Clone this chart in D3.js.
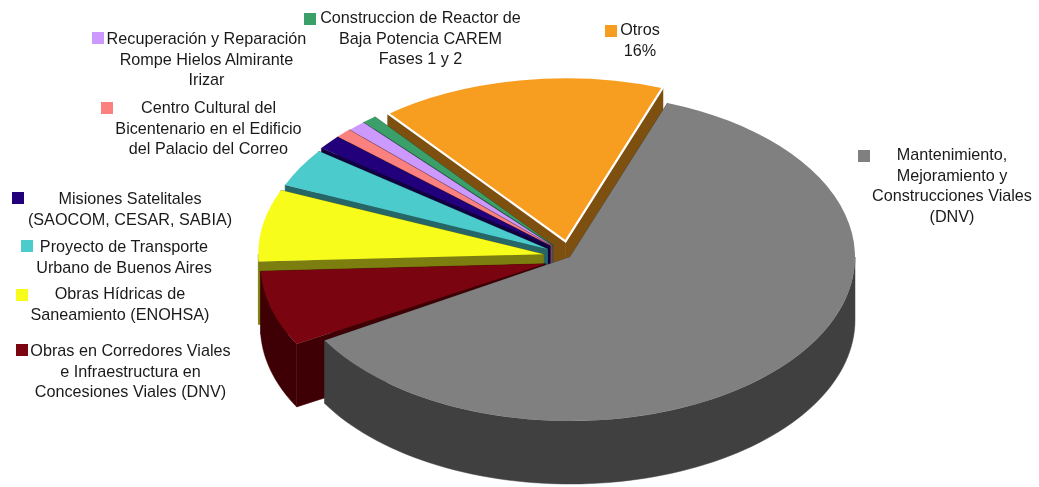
<!DOCTYPE html>
<html>
<head>
<meta charset="utf-8">
<script src="https://cdnjs.cloudflare.com/ajax/libs/d3/7.8.5/d3.min.js"></script>
<style>
html,body{margin:0;padding:0;background:#fff;overflow:hidden}
svg{display:block;filter:blur(0.45px)}
text{font-family:"Liberation Sans",Arial,sans-serif;font-size:16.2px;fill:#1a1a1a;text-anchor:middle;dominant-baseline:middle}
</style>
</head>
<body>
<svg id="c" width="1039" height="487"></svg>
<script>
// Data
const categories = [
  "Mantenimiento, Mejoramiento y Construcciones Viales (DNV)",
  "Obras en Corredores Viales e Infraestructura en Concesiones Viales (DNV)",
  "Obras Hídricas de Saneamiento (ENOHSA)",
  "Proyecto de Transporte Urbano de Buenos Aires",
  "Misiones Satelitales (SAOCOM, CESAR, SABIA)",
  "Centro Cultural del Bicentenario en el Edificio del Palacio del Correo",
  "Recuperación y Reparación Rompe Hielos Almirante Irizar",
  "Construccion de Reactor de Baja Potencia CAREM Fases 1 y 2",
  "Otros"
];
const values = [61, 7.8, 7.1, 3.8, 1.4, 0.9, 1, 0.8, 16.3];
const labelLines = [
  ["Mantenimiento,", "Mejoramiento y", "Construcciones Viales", "(DNV)"],
  ["Obras en Corredores Viales", "e Infraestructura en", "Concesiones Viales (DNV)"],
  ["Obras Hídricas de", "Saneamiento (ENOHSA)"],
  ["Proyecto de Transporte", "Urbano de Buenos Aires"],
  ["Misiones Satelitales", "(SAOCOM, CESAR, SABIA)"],
  ["Centro Cultural del", "Bicentenario en el Edificio", "del Palacio del Correo"],
  ["Recuperación y Reparación", "Rompe Hielos Almirante", "Irizar"],
  ["Construccion de Reactor de", "Baja Potencia CAREM", "Fases 1 y 2"],
  ["Otros", "16%"]
];
// Styles and layout
const topColors = ["#808080","#7a0510","#f8fc1a","#4bcbcb","#22007b","#fb8080","#cc99ff","#3a9f68","#f79d1f"];
const sideColors = ["#404040","#3f0005","#7d7e10","#266666","#110040","#804040","#664d80","#1d5034","#7d5010"];
const legendLayout = [
  {sx:858,sy:150,tx:952,ty:155.5},
  {sx:16,sy:344,tx:130.5,ty:351.5},
  {sx:16,sy:289,tx:120,ty:294.5},
  {sx:21,sy:240,tx:124,ty:247.5},
  {sx:12,sy:192,tx:130,ty:199.5},
  {sx:101,sy:102,tx:208.5,ty:108.5},
  {sx:92,sy:32,tx:206.5,ty:39.5},
  {sx:304,sy:13,tx:420.5,ty:18.5},
  {sx:605,sy:25,tx:640,ty:30.5}
];
const lineGap = 20.8;
const cx = 570, cy = 257, rx = 285, ry = 164, depth = 63, explode = 0.097;
// small per-slice corrections to the exploded position (px) and the leading edge (degrees)
const nudgeX = [0, 2, 0.5, 1.5, 1.5, 1, 1, 0.5, 0];
const nudgeY = [0, 2.5, 0, 0, -1, -0.5, 0, 0, 0];
const startTrim = [0, 1.4, 0, 0, 0, 0, 0, 0, 0];

const svg = d3.select("#c");
const x = d3.scaleLinear().domain([-1,1]).range([cx-rx,cx+rx]);
const y = d3.scaleLinear().domain([-1,1]).range([cy-ry,cy+ry]);
const deg = Math.PI/180;
const arcs = d3.pie().sort(null).startAngle(20*deg).endAngle(380*deg)(values)
  .map((a,i) => ({...a, startAngle: a.startAngle + startTrim[i]*deg}));
const topArc = d3.arc().innerRadius(0).outerRadius(rx);
const line = d3.line();

// Painter's order: from the back slice to the front one, big grey slice last
const order = d3.range(values.length).reverse();
order.forEach(i => {
  const a = arcs[i];
  const mid = (a.startAngle + a.endAngle)/2;
  const e = i === 0 ? 0 : explode;
  const ox = e*Math.sin(mid), oy = -e*Math.cos(mid);
  const px = (t,r=1) => x(ox + r*Math.sin(t)) + nudgeX[i];
  const py = (t,r=1) => y(oy - r*Math.cos(t)) + nudgeY[i];
  const g = svg.append("g");

  // radial walls
  [a.startAngle, a.endAngle].forEach(t => {
    const pts = [[px(0,0),py(0,0)],[px(t),py(t)],[px(t),py(t)+depth],[px(0,0),py(0,0)+depth]];
    g.append("path").attr("d", line(pts)+"Z").attr("fill", sideColors[i]).attr("stroke", sideColors[i]).attr("stroke-width",0.5);
  });

  // outer wall: only the part facing the viewer (90deg to 270deg, modulo a turn)
  [0, 2*Math.PI].forEach(shift => {
    const s = Math.max(a.startAngle, Math.PI/2 + shift), f = Math.min(a.endAngle, 1.5*Math.PI + shift);
    if (f <= s) return;
    const ts = d3.range(0,81).map(k => s + (f-s)*k/80);
    const upper = ts.map(t => [px(t),py(t)]);
    const lower = ts.slice().reverse().map(t => [px(t),py(t)+depth]);
    g.append("path").attr("d", line(upper.concat(lower))+"Z").attr("fill", sideColors[i]).attr("stroke", sideColors[i]).attr("stroke-width",0.5);
  });

  // top face
  g.append("path")
    .attr("d", topArc(a))
    .attr("transform", `translate(${px(0,0)},${py(0,0)}) scale(1,${ry/rx})`)
    .attr("fill", topColors[i])
    .attr("stroke", i === 8 ? "#fff" : "none")
    .attr("stroke-width", i === 8 ? 2.2 : 0)
    .attr("vector-effect", "non-scaling-stroke");
});

// Legend squares and labels
const leg = svg.append("g").selectAll("g").data(categories).join("g").attr("data-name", d => d);
leg.append("rect")
  .attr("x", (d,i) => legendLayout[i].sx).attr("y", (d,i) => legendLayout[i].sy)
  .attr("width", 12).attr("height", 12)
  .attr("fill", (d,i) => topColors[i]);
leg.each(function(d,i){
  const l = legendLayout[i];
  d3.select(this).selectAll("text").data(labelLines[i]).join("text")
    .attr("x", l.tx).attr("y", (t,k) => l.ty + k*lineGap).text(t => t);
});
</script>
</body>
</html>
